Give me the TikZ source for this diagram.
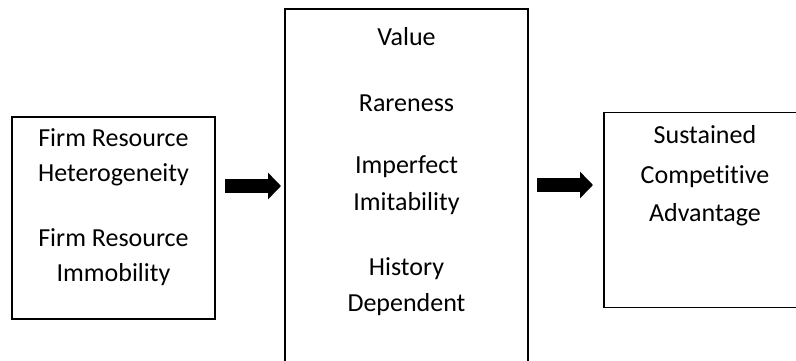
\documentclass[tikz,border=0pt]{standalone}
\usepackage{fontspec}
\setmainfont[Ligatures={NoCommon}]{Carlito}
\usetikzlibrary{arrows.meta}
\begin{document}
\begin{tikzpicture}[x=1pt,y=-1pt,
  panel/.style={draw=black,line width=1.6pt,fill=white,inner sep=0pt,outer sep=0pt},
  label/.style={anchor=base,inner sep=0pt,font=\fontsize{26}{32}\selectfont},
  blockarrow/.style={line width=14pt,-{Triangle[length=13pt,width=26pt]}}]
\useasboundingbox (0,0) rectangle (796,360);
% three panels
\node[panel,minimum width=203pt,minimum height=202pt] (leftbox) at (113.5,218) {};
\node[panel,minimum width=243pt,minimum height=370pt] (midbox) at (406.5,194) {};
\node[panel,minimum width=210pt,minimum height=195pt] (rightbox) at (709,210) {};
% left panel text
\node[label] (l1) at (113.5,146) {Firm Resource};
\node[label] (l2) at (113.5,181) {Heterogeneity};
\node[label] (l3) at (113.5,246) {Firm Resource};
\node[label] (l4) at (113.5,281) {Immobility};
% middle panel text
\node[label] (m1) at (406.5,45) {Value};
\node[label] (m2) at (406.5,111) {Rareness};
\node[label] (m3) at (406.5,173) {Imperfect};
\node[label] (m4) at (406.5,210) {Imitability};
\node[label] (m5) at (406.5,275) {History};
\node[label] (m6) at (406.5,311) {Dependent};
% right panel text
\node[label] (r1) at (705,143) {Sustained};
\node[label] (r2) at (705,183) {Competitive};
\node[label] (r3) at (705,221) {Advantage};
% block arrows between panels
\draw[blockarrow] ([xshift=10pt]leftbox.east |- 0,186) -- ([xshift=-4pt]midbox.west |- 0,186);
\draw[blockarrow] ([xshift=9pt]midbox.east |- 0,185) -- ([xshift=-11pt]rightbox.west |- 0,185);
\end{tikzpicture}
\end{document}
